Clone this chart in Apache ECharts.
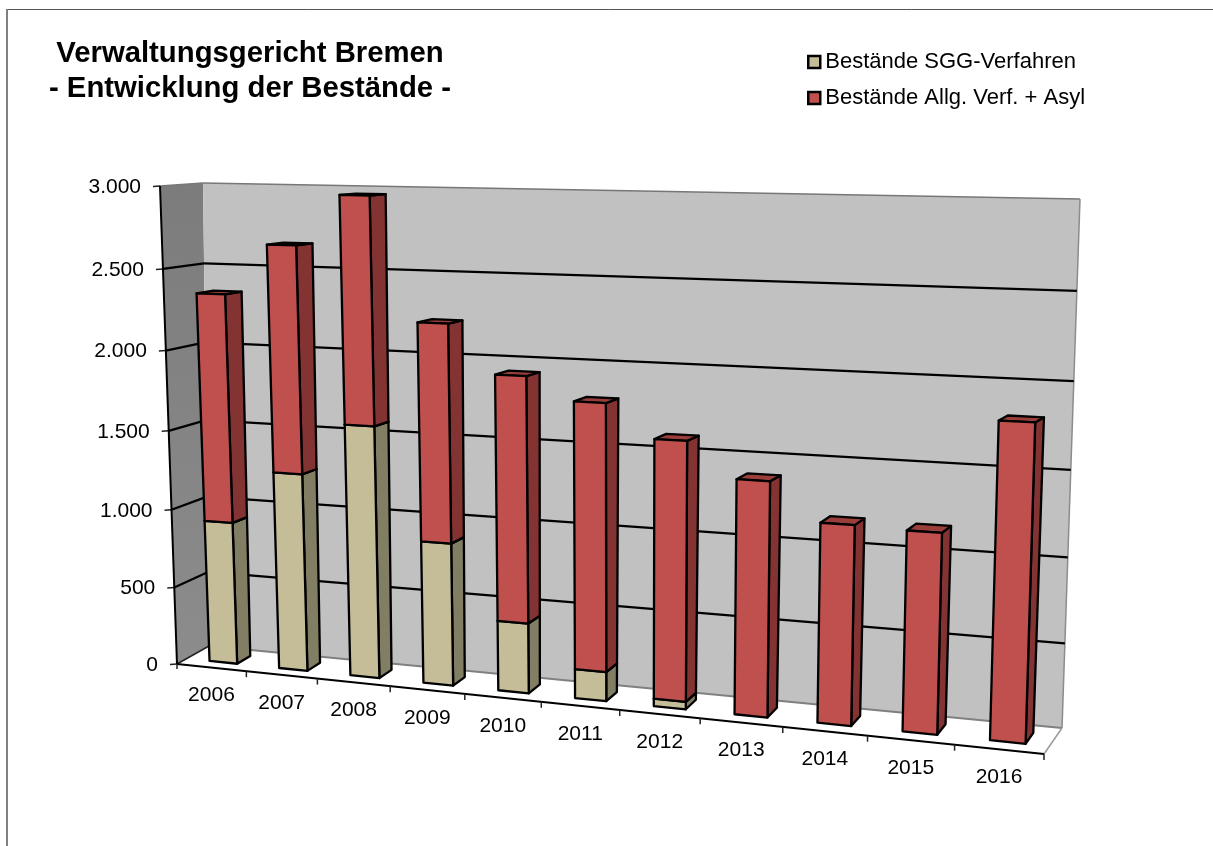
<!DOCTYPE html>
<html><head><meta charset="utf-8">
<style>html,body{margin:0;padding:0;background:#fff}#c{width:1213px;height:846px}</style>
<script src="https://cdn.jsdelivr.net/npm/echarts@6/dist/echarts.min.js"></script>
</head><body><div id="c"></div>
<script>
const categories = ['2006','2007','2008','2009','2010','2011','2012','2013','2014','2015','2016'];
const sggValues  = [915,1255,1580,890,435,180,45,0,0,0,0];
const allgValues = [1430,1400,1380,1330,1495,1615,1555,1395,1175,1165,1810];
const yTicks = [0,500,1000,1500,2000,2500,3000];
const sggName = 'Bestände SGG-Verfahren';
const allgName = 'Bestände Allg. Verf. + Asyl';
const titleLines = 'Verwaltungsgericht Bremen\n- Entwicklung der Bestände -';

// perspective box of the 3D chart frame
const box = {
  fb0:[177,664], ft0:[160,186], bb0:[209,646], bt0:[203,183],
  fb1:[1044,754], ft1:[1058,202], bb1:[1062,728], bt1:[1080,199]
};
const warp = (t,k) => t/(t+k*(1-t));
const mix = (a,b,t) => [a[0]+(b[0]-a[0])*t, a[1]+(b[1]-a[1])*t];
function proj(u,v,w){
  const tu = warp(u,1.15), tv = warp(v,1.05);
  const f0 = mix(box.fb0,box.ft0,tv), b0 = mix(box.bb0,box.bt0,tv);
  const f1 = mix(box.fb1,box.ft1,tv), b1 = mix(box.bb1,box.bt1,tv);
  return mix(mix(f0,f1,tu), mix(b0,b1,tu), w);
}
// bars lean a little further apart towards the top than the walls do
function barProj(u,v,w){
  const p = proj(u,v,w);
  const tv = warp(v,1.05);
  return [p[0] + (-4 + 6*warp(u,1.15))*tv, p[1]];
}
const W0 = 0.3, W1 = 0.72, F0 = 0.335, F1 = 0.735;
const FONT = 'Liberation Sans';

function normU(p, x){ return (x-p.coordSys.x)/p.coordSys.width; }
function normV(p, y){ return 1-(y-p.coordSys.y)/p.coordSys.height; }

function barRender(front, side, top){
  return function(params, api){
    const i = api.value(0), lo = api.value(1), hi = api.value(2);
    if (hi <= lo) return;
    const band = api.size([1,0])[0];
    const cLo = api.coord([i,lo]), cHi = api.coord([i,hi]);
    const u0 = normU(params, cLo[0]+(F0-.5)*band), u1 = normU(params, cLo[0]+(F1-.5)*band);
    const v0 = normV(params, cLo[1]), v1 = normV(params, cHi[1]);
    const poly = (pts,fill)=>({type:'polygon',shape:{points:pts},
      style:{fill,stroke:'#000',lineWidth:2.3,lineJoin:'round'}});
    const P = barProj;
    return {type:'group',children:[
      poly([P(u1,v0,W0),P(u1,v0,W1),P(u1,v1,W1),P(u1,v1,W0)],side),
      poly([P(u0,v1,W0),P(u1,v1,W0),P(u1,v1,W1),P(u0,v1,W1)],top),
      poly([P(u0,v0,W0),P(u1,v0,W0),P(u1,v1,W0),P(u0,v1,W0)],front)
    ]};
  };
}

function frameRender(params, api){
  const ch = [];
  const line = (a,b,stroke,lw)=>ch.push({type:'line',shape:{x1:a[0],y1:a[1],x2:b[0],y2:b[1]},style:{stroke,lineWidth:lw}});
  const quad = (pts,fill)=>ch.push({type:'polygon',shape:{points:pts},style:{fill}});
  quad([proj(0,0,0),proj(0,1,0),proj(0,1,1),proj(0,0,1)],
    {type:'linear',x:0,y:0,x2:0,y2:1,colorStops:[{offset:0,color:'#7c7c7c'},{offset:1,color:'#8c8c8c'}]});
  quad([proj(0,0,1),proj(0,1,1),proj(1,1,1),proj(1,0,1)],'#C1C1C1');
  quad([proj(0,0,0),proj(0,0,1),proj(1,0,1),proj(1,0,0)],'#FFFFFF');
  line(proj(0,1,0),proj(0,1,1),'#777',1.5);
  line(proj(0,1,1),proj(1,1,1),'#777',1.5);
  line(proj(1,1,1),proj(1,0,1),'#8c8c8c',1.5);
  line(proj(0,0,1),proj(1,0,1),'#808080',2);
  line(proj(1,0,1),proj(1,0,0),'#9a9a9a',1.5);
  yTicks.forEach(t=>{
    const v = normV(params, api.coord([0,t])[1]);
    const a = proj(0,v,0), b = proj(0,v,1), c = proj(1,v,1);
    if (t>0 && t<3000){ line(a,b,'#000',2.2); line(b,c,'#000',2.2); }
    if (t===0) line(a,b,'#222',1.5);
    line([a[0]-7,a[1]+0.5],a,'#222',1.5);
    ch.push({type:'text',style:{text:t===0?'0':t.toLocaleString('de-DE'),x:a[0]-19,y:a[1]+1,
      textAlign:'right',textVerticalAlign:'middle',fontSize:21,fontFamily:FONT,fill:'#000'}});
  });
  line(proj(0,0,0),proj(0,1,0),'#000',2);
  line(proj(0,0,0),proj(1,0,0),'#000',2.2);
  const band = api.size([1,0])[0];
  categories.forEach((c,i)=>{
    const cx = normU(params, api.coord([i,0])[0]);
    const edge = proj(normU(params, api.coord([i,0])[0]+band/2),0,0);
    line(edge,[edge[0],edge[1]+6],'#222',1.5);
    const p = proj(cx,0,0);
    ch.push({type:'text',style:{text:c,x:p[0],y:p[1]+28,textAlign:'center',textVerticalAlign:'middle',
      fontSize:21,fontFamily:FONT,fill:'#000'}});
  });
  const first = proj(0,0,0);
  line(first,[first[0],first[1]+5],'#222',1.5);
  return {type:'group',children:ch};
}

const sggData = categories.map((c,i)=>[i,0,sggValues[i]]);
const allgData = categories.map((c,i)=>[i,sggValues[i],sggValues[i]+allgValues[i]]);

const chart = echarts.init(document.getElementById('c'),null,{renderer:'canvas'});
chart.setOption({
  animation:false,
  backgroundColor:'#fff',
  title:{text:titleLines,left:245,top:31,textAlign:'center',
    textStyle:{fontFamily:FONT,fontSize:29.3,fontWeight:'bold',color:'#000',lineHeight:35}},
  legend:{orient:'vertical',left:802,top:45,itemWidth:12,itemHeight:12,itemGap:12,icon:'rect',
    data:[sggName,allgName],selectedMode:false,
    itemStyle:{borderColor:'#000',borderWidth:2.5},
    textStyle:{fontFamily:FONT,fontSize:22,color:'#000',lineHeight:24,padding:[0,0,0,0]}},
  grid:{left:0,right:0,top:0,bottom:0,containLabel:false},
  xAxis:{type:'category',data:categories,show:false},
  yAxis:{type:'value',min:0,max:3000,interval:500,show:false},
  series:[
    {type:'custom',name:'frame',data:[[0]],renderItem:frameRender,silent:true,clip:false,z:1,encode:{x:0,y:0}},
    {type:'custom',name:sggName,data:sggData,renderItem:barRender('#C4BD97','#827E64','#9c9678'),
      itemStyle:{color:'#C4BD97'},clip:false,z:2,encode:{x:0,y:[1,2]}},
    {type:'custom',name:allgName,data:allgData,renderItem:barRender('#C0504D','#833331','#9A3E3B'),
      itemStyle:{color:'#C0504D'},clip:false,z:3,encode:{x:0,y:[1,2]}}
  ],
  graphic:[
    {type:'line',shape:{x1:6,y1:9.5,x2:1213,y2:9.5},style:{stroke:'#555',lineWidth:1}},
    {type:'line',shape:{x1:7,y1:9,x2:7,y2:846},style:{stroke:'#808080',lineWidth:2}}
  ]
});
</script></body></html>
